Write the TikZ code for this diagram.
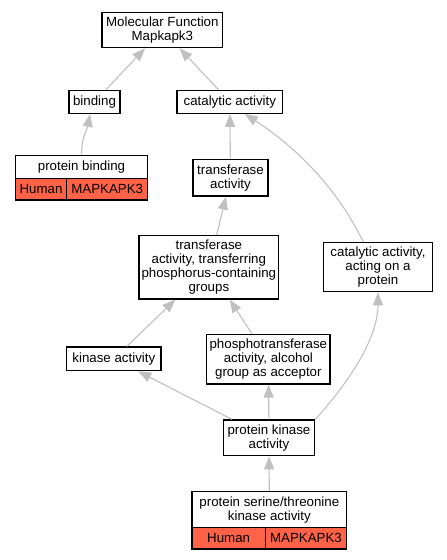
\documentclass[tikz,border=0pt]{standalone}
\usepackage{fontspec}
\setmainfont{Liberation Sans}
\usetikzlibrary{arrows.meta}
\definecolor{edgegray}{RGB}{192,192,192}
\definecolor{tomatofill}{RGB}{255,99,71}
\tikzset{
  box/.style={draw=black, line width=1.25pt, inner sep=0pt, align=center, fill=white,
    font=\fontsize{13.3}{13.9}\selectfont},
  cell/.style={box, fill=tomatofill},
  edge/.style={draw=edgegray, line width=1.1pt,
    -{Triangle[length=13pt,width=10pt,fill=edgegray]}},
}
\begin{document}
\begin{tikzpicture}[x=1pt,y=1pt]
\path[use as bounding box] (0,0) rectangle (447,-560);
\node[box, minimum width=120.7pt, minimum height=35.4pt] (mf) at (162.35,-30) {Molecular Function\\Mapkapk3};
\node[box, minimum width=51pt, minimum height=23pt] (bind) at (94.5,-101.8) {binding};
\node[box, minimum width=105.7pt, minimum height=23pt] (cat) at (229.85,-101.8) {catalytic activity};
\node[box, minimum width=132.4pt, minimum height=23pt] (pb) at (81.5,-166.8) {protein binding};
\node[cell, minimum width=51.4pt, minimum height=21.7pt] (pbh) at (41,-189.15) {Human};
\node[cell, minimum width=81pt, minimum height=21.7pt] (pbm) at (107.2,-189.15) {MAPKAPK3};
\node[box, minimum width=75pt, minimum height=36.7pt] (ta) at (230.5,-177.65) {transferase\\activity};
\node[box, minimum width=139.7pt, minimum height=63.3pt] (tp) at (208.85,-267.35) {transferase\\activity, transferring\\phosphorus-containing\\groups};
\node[box, minimum width=108.6pt, minimum height=49pt] (cap) at (378,-267.2) {catalytic activity,\\acting on a\\protein};
\node[box, minimum width=94.3pt, minimum height=23.7pt] (ka) at (113.85,-358.85) {kinase activity};
\node[box, minimum width=123.3pt, minimum height=49.7pt] (pt) at (268.35,-359.15) {phosphotransferase\\activity, alcohol\\group as acceptor};
\node[box, minimum width=91.4pt, minimum height=35.7pt] (pk) at (269,-437.85) {protein kinase\\activity};
\node[box, minimum width=154.7pt, minimum height=36pt] (ps) at (269.35,-509.7) {protein serine/threonine\\kinase activity};
\node[cell, minimum width=73.3pt, minimum height=21.3pt] (psh) at (228.65,-538.35) {Human};
\node[cell, minimum width=81.4pt, minimum height=21.3pt] (psm) at (306,-538.35) {MAPKAPK3};

\draw[edge] (bind) -- (mf);
\draw[edge] (cat) -- (mf);
\draw[edge] (pb.north) .. controls +(0,18) and +(-3,-16) .. (bind.250);
\draw[edge] (ta) -- (cat);
\draw[edge] ([xshift=-14.7pt]cap.north) .. controls +(-23,48) and +(57,-37) .. ([xshift=15pt]cat.south);
\draw[edge] (tp) -- (ta);
\draw[edge] (ka) -- (tp);
\draw[edge] (pt) -- (tp);
\draw[edge] ([xshift=-37pt]pk.north) -- (ka);
\draw[edge] (pk) -- (pt);
\draw[edge] (pk.north east) .. controls +(45,50) and +(0,-38) .. (cap.south);
\draw[edge] (ps) -- (pk);
\end{tikzpicture}
\end{document}
